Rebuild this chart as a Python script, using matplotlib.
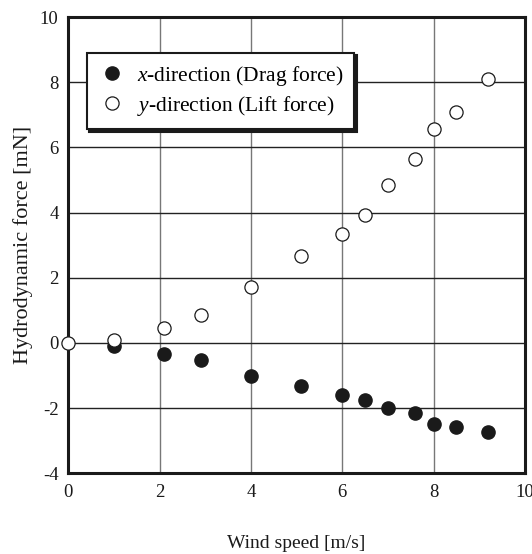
import numpy as np
import matplotlib
matplotlib.use('Agg')
import matplotlib.pyplot as plt

plt.rcParams['font.family'] = ['Liberation Serif', 'DejaVu Serif']
plt.rcParams['mathtext.fontset'] = 'custom'
plt.rcParams['mathtext.rm'] = 'Liberation Serif'
plt.rcParams['mathtext.it'] = 'Liberation Serif:italic'
plt.rcParams['axes.unicode_minus'] = False

# wind speed [m/s]
wind_drag = [1.0, 2.1, 2.9, 4.0, 5.1, 6.0, 6.5, 7.0, 7.6, 8.0, 8.5, 9.2]
drag = [-0.10, -0.34, -0.51, -1.01, -1.33, -1.59, -1.74, -2.0, -2.16, -2.49, -2.58, -2.74]

wind_lift = [0.0, 1.0, 2.1, 2.9, 4.0, 5.1, 6.0, 6.5, 7.0, 7.6, 8.0, 8.5, 9.2]
lift = [0.0, 0.10, 0.47, 0.85, 1.71, 2.66, 3.33, 3.92, 4.86, 5.64, 6.56, 7.08, 8.10]

xticks = [0, 2, 4, 6, 8, 10]
yticks = [-4, -2, 0, 2, 4, 6, 8, 10]

ink = '#1a1a1a'

fig = plt.figure(figsize=(5.32, 5.54), dpi=100)
ax = fig.add_axes([0.1284, 0.1457, 0.8584, 0.8236])

# grid
for x in xticks[1:-1]:
    ax.axvline(x, color='#777777', lw=1.0, zorder=1)
for y in yticks[1:-1]:
    ax.axhline(y, color='#222222', lw=1.0, zorder=1)

ax.plot(wind_drag, drag, 'o', color=ink, ms=9.5, zorder=3,
        label='$\\it{x}$-direction (Drag force)')
ax.plot(wind_lift, lift, 'o', mfc='white', mec=ink, mew=0.9, ms=9.5,
        zorder=4, clip_on=False, label='$\\it{y}$-direction (Lift force)')

ax.set_xlim(0, 10)
ax.set_ylim(-4, 10)
ax.set_xticks(xticks)
ax.set_yticks(yticks)
ax.tick_params(length=0, labelsize=13.5, colors=ink)
ax.tick_params(axis='x', pad=8)
ax.tick_params(axis='y', pad=7)
for s in ax.spines.values():
    s.set_linewidth(2.2)
    s.set_color(ink)

ax.set_xlabel('Wind speed [m/s]', fontsize=14, labelpad=24, color=ink)
ax.set_ylabel('Hydrodynamic force [mN]', fontsize=16, labelpad=5, color=ink)

leg = ax.legend(loc='upper left', bbox_to_anchor=(0.040, 0.922), borderaxespad=0,
                fontsize=15.5, fancybox=False, framealpha=1, edgecolor=ink,
                shadow={'color': ink, 'alpha': 1}, markerscale=1.0,
                handlelength=1.35, handletextpad=0.45, borderpad=0.52,
                labelspacing=0.28)
leg.get_frame().set_linewidth(1.5)
leg.set_zorder(5)

fig.savefig('out.png', dpi=100)
